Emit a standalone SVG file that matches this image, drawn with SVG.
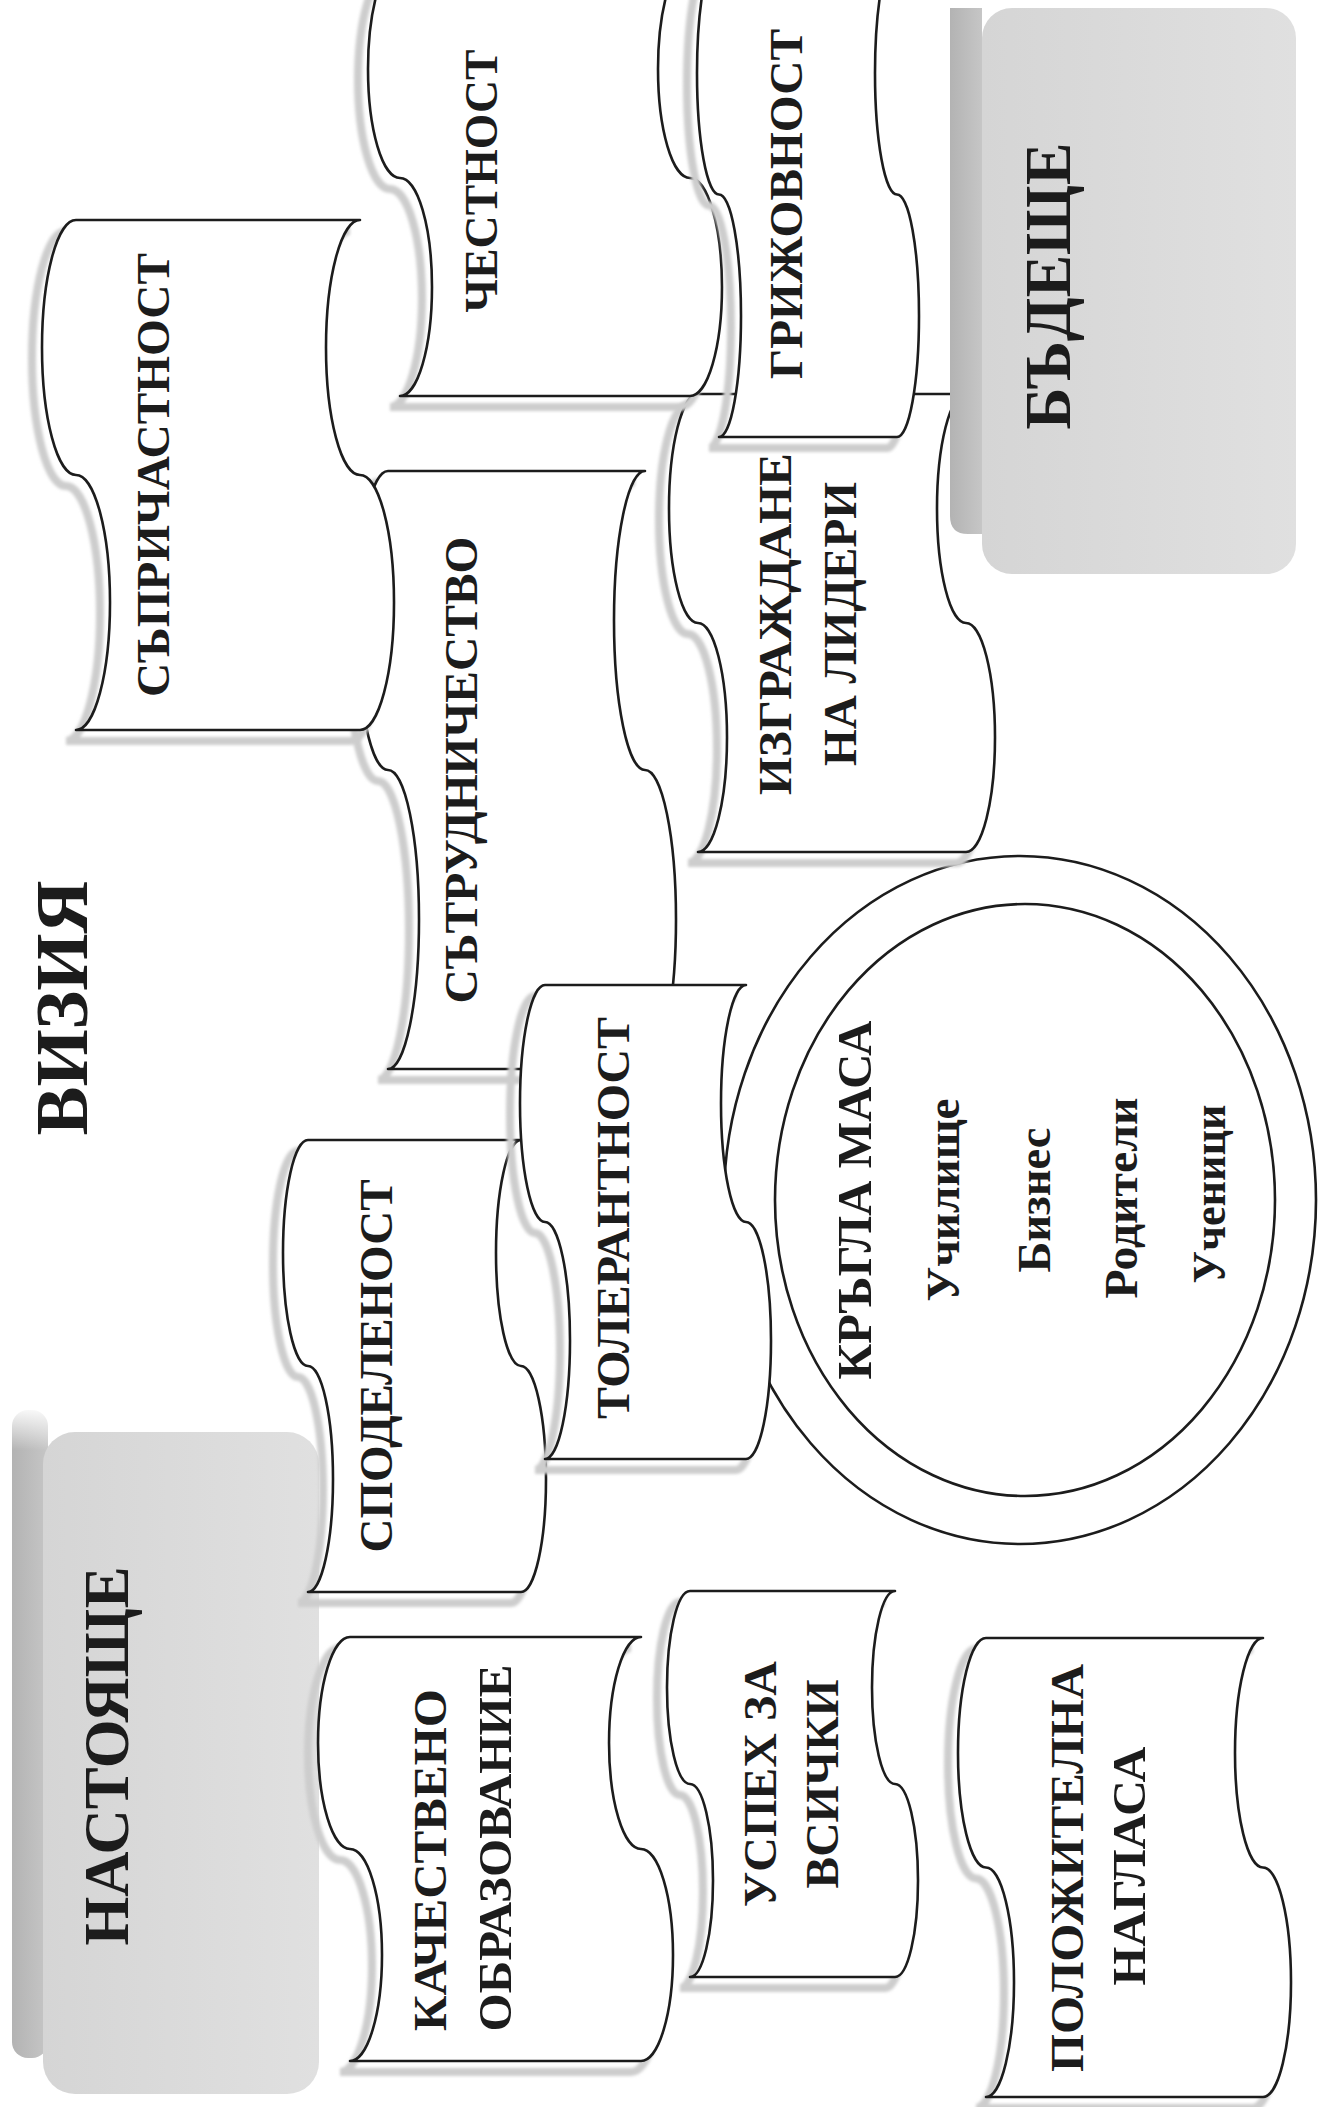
<svg xmlns="http://www.w3.org/2000/svg" xmlns:xlink="http://www.w3.org/1999/xlink" width="1322" height="2107" viewBox="0 0 1322 2107">
<style>
.wave{fill:#ffffff;stroke:#1c1c1c;stroke-width:2.6;stroke-linejoin:round}
.shadow{fill:none;stroke:#cdcdcd;stroke-width:8;filter:url(#blur)}
.ring{fill:none;stroke:#1c1c1c;stroke-width:2.6}
.t{font-family:"Liberation Serif","Times New Roman",serif;font-weight:bold;fill:#1c1c1c;text-anchor:middle}
.face{fill:url(#faceGrad)}
.band{fill:url(#bandGrad)}
</style>
<defs>
<filter id="blur" x="-10%" y="-10%" width="120%" height="120%"><feGaussianBlur stdDeviation="1.6"/></filter>
<linearGradient id="faceGrad" x1="0" y1="0" x2="1" y2="0"><stop offset="0" stop-color="#d5d5d5"/><stop offset="1" stop-color="#e0e0e0"/></linearGradient>
<linearGradient id="bandGrad" x1="0" y1="0" x2="1" y2="0"><stop offset="0" stop-color="#b3b3b3"/><stop offset="1" stop-color="#c6c6c6"/></linearGradient>
<linearGradient id="bandTop" x1="0" y1="0" x2="0" y2="1"><stop offset="0" stop-color="#ffffff" stop-opacity="0.9"/><stop offset="1" stop-color="#ffffff" stop-opacity="0"/></linearGradient>
<path id="p-sypr" d="M76,220 H360 A34,127.5 0 0 0 360,475 A34,127.5 0 0 1 360,730 H76 A34,127.5 0 0 0 76,475 A34,127.5 0 0 1 76,220 Z"/>
<path id="p-chest" d="M400,-40 H690 A32,109 0 0 0 690,178 A32,109 0 0 1 690,396 H400 A32,109 0 0 0 400,178 A32,109 0 0 1 400,-40 Z"/>
<path id="p-griz" d="M719,-48 H897 A22,121.25 0 0 0 897,194.5 A22,121.25 0 0 1 897,437 H719 A22,121.25 0 0 0 719,194.5 A22,121.25 0 0 1 719,-48 Z"/>
<path id="p-izgr" d="M698,394 H966 A29,114.5 0 0 0 966,623 A29,114.5 0 0 1 966,852 H698 A29,114.5 0 0 0 698,623 A29,114.5 0 0 1 698,394 Z"/>
<path id="p-sytr" d="M388,471 H645 A31,149.5 0 0 0 645,770 A31,149.5 0 0 1 645,1069 H388 A31,149.5 0 0 0 388,770 A31,149.5 0 0 1 388,471 Z"/>
<path id="p-tol" d="M545,985 H746 A25,118.5 0 0 0 746,1222 A25,118.5 0 0 1 746,1459 H545 A25,118.5 0 0 0 545,1222 A25,118.5 0 0 1 545,985 Z"/>
<path id="p-spod" d="M308,1140 H521 A25,113 0 0 0 521,1366 A25,113 0 0 1 521,1592 H308 A25,113 0 0 0 308,1366 A25,113 0 0 1 308,1140 Z"/>
<path id="p-kach" d="M350,1637 H641 A32,106 0 0 0 641,1849 A32,106 0 0 1 641,2061 H350 A32,106 0 0 0 350,1849 A32,106 0 0 1 350,1637 Z"/>
<path id="p-usp" d="M690,1591 H895 A23,96.5 0 0 0 895,1784 A23,96.5 0 0 1 895,1977 H690 A23,96.5 0 0 0 690,1784 A23,96.5 0 0 1 690,1591 Z"/>
<path id="p-pol" d="M986,1638 H1263 A28,114.75 0 0 0 1263,1867.5 A28,114.75 0 0 1 1263,2097 H986 A28,114.75 0 0 0 986,1867.5 A28,114.75 0 0 1 986,1638 Z"/>
</defs>
<rect x="0" y="0" width="1322" height="2107" fill="#ffffff"/>

<g id="node-nastoyashte">
<rect class="band" x="12" y="1410" width="36" height="648" rx="16"/>
<rect x="12" y="1410" width="40" height="40" fill="url(#bandTop)"/>
<rect class="face" x="43" y="1432" width="276" height="662" rx="32"/>
<text class="t" transform="translate(128,1756) rotate(-90)" font-size="63" textLength="379" lengthAdjust="spacingAndGlyphs">НАСТОЯЩЕ</text>
</g>

<g id="node-krygla-masa">
<ellipse class="ring" cx="1020" cy="1200" rx="296" ry="344"/>
<ellipse class="ring" cx="1025" cy="1200" rx="250" ry="296"/>
<text class="t" transform="translate(871,1200) rotate(-90)" font-size="48" textLength="359" lengthAdjust="spacingAndGlyphs">КРЪГЛА МАСА</text>
<text class="t" transform="translate(959,1200) rotate(-90)" font-size="46" textLength="203" lengthAdjust="spacingAndGlyphs">Училище</text>
<text class="t" transform="translate(1050,1200) rotate(-90)" font-size="46" textLength="145" lengthAdjust="spacingAndGlyphs">Бизнес</text>
<text class="t" transform="translate(1137,1198) rotate(-90)" font-size="46" textLength="201" lengthAdjust="spacingAndGlyphs">Родители</text>
<text class="t" transform="translate(1225,1194) rotate(-90)" font-size="46" textLength="179" lengthAdjust="spacingAndGlyphs">Ученици</text>
</g>

<g id="node-sytrudnichestvo">
<use href="#p-sytr" class="shadow" transform="translate(-10,11)"/>
<use href="#p-sytr" class="wave"/>
<text class="t" transform="translate(477,770) rotate(-90)" font-size="47" textLength="467" lengthAdjust="spacingAndGlyphs">СЪТРУДНИЧЕСТВО</text>
</g>

<g id="node-syprichastnost">
<use href="#p-sypr" class="shadow" transform="translate(-10,11)"/>
<use href="#p-sypr" class="wave"/>
<text class="t" transform="translate(169,475) rotate(-90)" font-size="47" textLength="444" lengthAdjust="spacingAndGlyphs">СЪПРИЧАСТНОСТ</text>
</g>

<g id="node-izgrazhdane">
<use href="#p-izgr" class="shadow" transform="translate(-10,11)"/>
<use href="#p-izgr" class="wave"/>
<text class="t" transform="translate(791,624) rotate(-90)" font-size="47" textLength="342" lengthAdjust="spacingAndGlyphs">ИЗГРАЖДАНЕ</text>
<text class="t" transform="translate(856,624) rotate(-90)" font-size="47" textLength="284" lengthAdjust="spacingAndGlyphs">НА ЛИДЕРИ</text>
</g>

<g id="node-badeshte">
<path class="band" d="M950,8 H982 V534 H968 Q950,534 950,516 Z"/>
<rect class="face" x="982" y="8" width="314" height="566" rx="30"/>
<text class="t" transform="translate(1070,286) rotate(-90)" font-size="66" textLength="287" lengthAdjust="spacingAndGlyphs">БЪДЕЩЕ</text>
</g>

<g id="node-chestnost">
<use href="#p-chest" class="shadow" transform="translate(-10,11)"/>
<use href="#p-chest" class="wave"/>
<text class="t" transform="translate(497,181) rotate(-90)" font-size="46" textLength="263" lengthAdjust="spacingAndGlyphs">ЧЕСТНОСТ</text>
</g>

<g id="node-grizhovnost">
<use href="#p-griz" class="shadow" transform="translate(-10,11)"/>
<use href="#p-griz" class="wave"/>
<text class="t" transform="translate(802,204) rotate(-90)" font-size="47" textLength="350" lengthAdjust="spacingAndGlyphs">ГРИЖОВНОСТ</text>
</g>

<g id="node-spodelenost">
<use href="#p-spod" class="shadow" transform="translate(-10,11)"/>
<use href="#p-spod" class="wave"/>
<text class="t" transform="translate(392,1366) rotate(-90)" font-size="47" textLength="373" lengthAdjust="spacingAndGlyphs">СПОДЕЛЕНОСТ</text>
</g>

<g id="node-tolerantnost">
<use href="#p-tol" class="shadow" transform="translate(-10,11)"/>
<use href="#p-tol" class="wave"/>
<text class="t" transform="translate(629,1218) rotate(-90)" font-size="47" textLength="402" lengthAdjust="spacingAndGlyphs">ТОЛЕРАНТНОСТ</text>
</g>

<g id="node-kachestveno">
<use href="#p-kach" class="shadow" transform="translate(-10,11)"/>
<use href="#p-kach" class="wave"/>
<text class="t" transform="translate(446,1860) rotate(-90)" font-size="47" textLength="342" lengthAdjust="spacingAndGlyphs">КАЧЕСТВЕНО</text>
<text class="t" transform="translate(511,1848) rotate(-90)" font-size="47" textLength="367" lengthAdjust="spacingAndGlyphs">ОБРАЗОВАНИЕ</text>
</g>

<g id="node-uspeh">
<use href="#p-usp" class="shadow" transform="translate(-10,11)"/>
<use href="#p-usp" class="wave"/>
<text class="t" transform="translate(776,1784) rotate(-90)" font-size="47" textLength="246" lengthAdjust="spacingAndGlyphs">УСПЕХ ЗА</text>
<text class="t" transform="translate(838,1784) rotate(-90)" font-size="47" textLength="209" lengthAdjust="spacingAndGlyphs">ВСИЧКИ</text>
</g>

<g id="node-polozhitelna">
<use href="#p-pol" class="shadow" transform="translate(-10,11)"/>
<use href="#p-pol" class="wave"/>
<text class="t" transform="translate(1083,1868) rotate(-90)" font-size="47" textLength="408" lengthAdjust="spacingAndGlyphs">ПОЛОЖИТЕЛНА</text>
<text class="t" transform="translate(1145,1866) rotate(-90)" font-size="47" textLength="239" lengthAdjust="spacingAndGlyphs">НАГЛАСА</text>
</g>

<g id="title-viziya">
<text class="t" transform="translate(87,1008) rotate(-90)" font-size="73" textLength="255" lengthAdjust="spacingAndGlyphs">ВИЗИЯ</text>
</g>

<g id="connectors"></g>
</svg>
